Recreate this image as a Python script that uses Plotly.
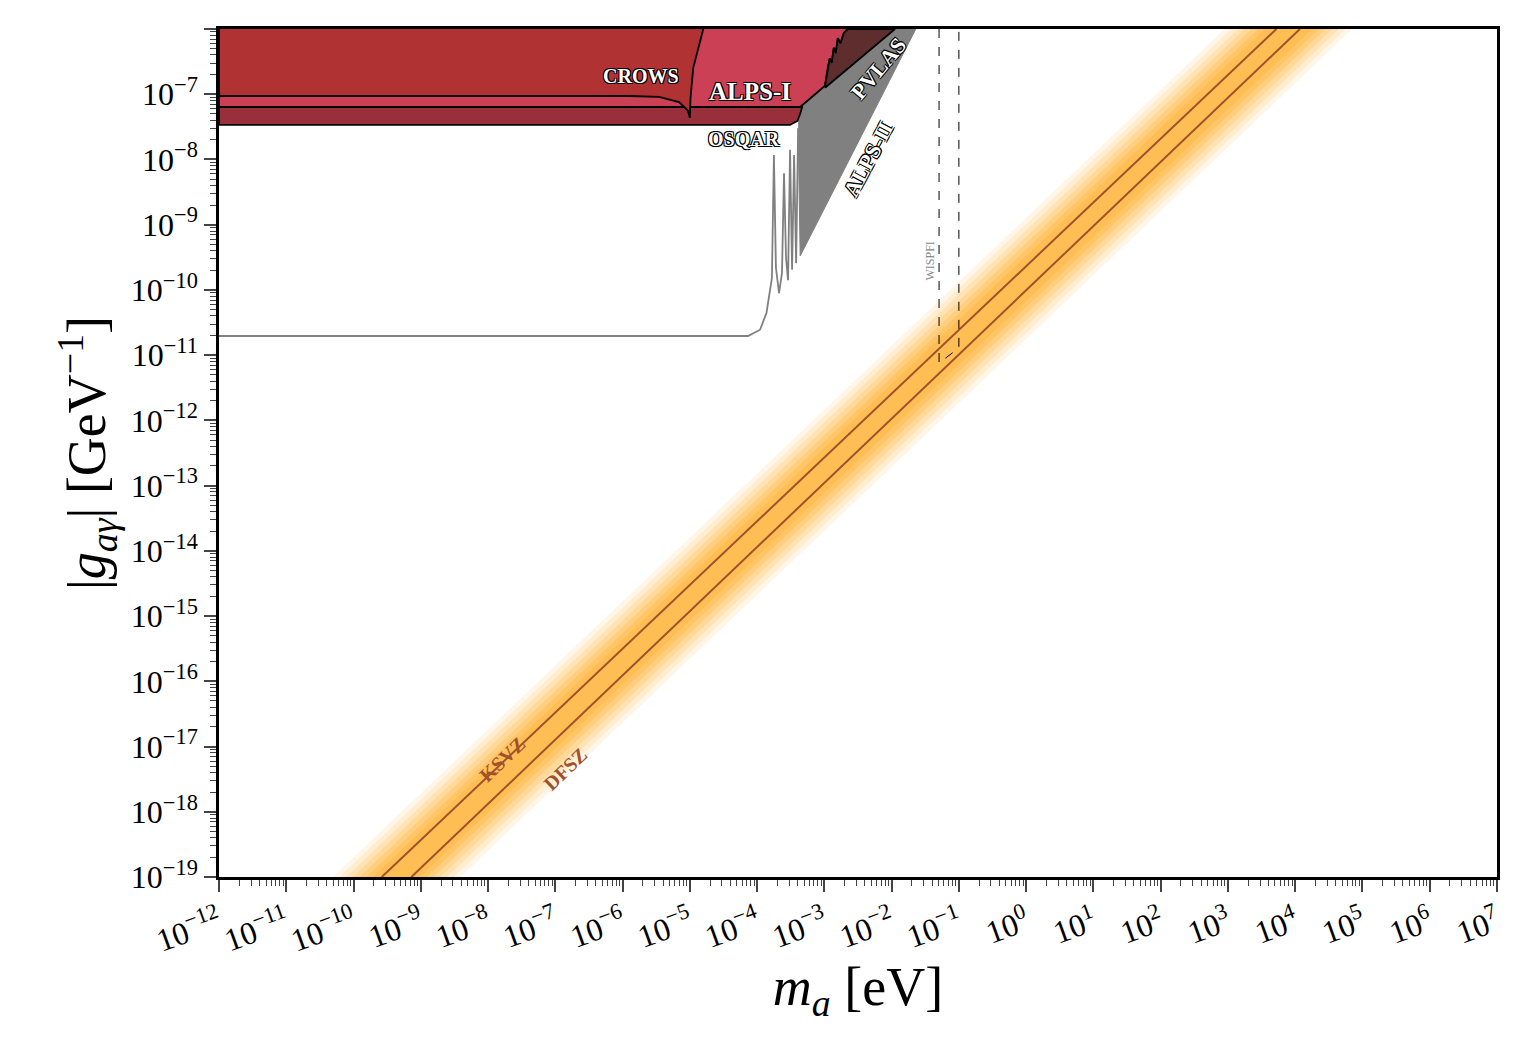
import plotly.graph_objects as go
import numpy as np

# ---- data (log10 units) ----
crows_x = [-12, -12, -5.91, -5.46, -5.16, -5.03, -5.00, -4.99, -4.95, -4.86, -4.80]
crows_y = [-6, -7.027, -7.027, -7.04, -7.12, -7.25, -7.36, -7.06, -6.60, -6.22, -6.0]
alps1_x = [-12, -12, -3.36, -3.19, -2.99, -2.95, -2.92, -2.89, -2.86, -2.83, -2.80, -2.76, -2.71, -2.65]
alps1_y = [-6, -7.196, -7.196, -7.05, -6.87, -6.60, -6.45, -6.52, -6.29, -6.37, -6.14, -6.22, -6.06, -6.0]
osqar_x = [-12, -12, -3.51, -3.40, -3.36, -3.33, -3.33]
osqar_y = [-6, -7.47, -7.47, -7.41, -7.30, -7.196, -6.0]
pvlas_x = [-2.99, -2.95, -2.92, -2.89, -2.86, -2.83, -2.80, -2.76, -2.71, -2.65, -1.95, -2.99]
pvlas_y = [-6.87, -6.60, -6.45, -6.52, -6.29, -6.37, -6.14, -6.22, -6.06, -6.0, -6.0, -6.90]
alps2_line_x = [-12, -4.135, -3.956, -3.86, -3.78, -3.75, -3.72, -3.674, -3.63, -3.60, -3.57, -3.54, -3.51, -3.48, -3.45, -3.42, -3.39]
alps2_line_y = [-10.706, -10.706, -10.61, -10.35, -9.82, -7.93, -9.66, -10.05, -9.74, -8.21, -9.51, -9.85, -7.85, -9.69, -7.93, -9.59, -7.52]
alps2_fill_x = [-3.39, -3.36, -1.64, -3.39]
alps2_fill_y = [-7.52, -9.48, -6.0, -6.0]
wispfi_x = [-1.295, -1.295, -1.0, -1.0]
wispfi_y = [-6.0, -11.12, -10.89, -6.0]
ksvz_x = [-9.58, 3.72]
dfsz_x = [-9.14, 4.07]
band_g = [-19, -6]
band_center_x = [-9.36, 3.90]

xticks = list(range(-12, 8))
yticks = list(range(-19, -5))

def sup(k):
    return "10<sup>" + ("−" + str(-k) if k < 0 else str(k)) + "</sup>"

P = lambda a: [10 ** v for v in a]
fig = go.Figure()

# axion band gradient
for w, op in [(0.95, 0.10), (0.85, 0.12), (0.75, 0.14), (0.65, 0.18), (0.55, 0.22), (0.45, 0.25), (0.35, 0.25)]:
    xs = [band_center_x[0] - w, band_center_x[1] - w, band_center_x[1] + w, band_center_x[0] + w]
    ys = [band_g[0], band_g[1], band_g[1], band_g[0]]
    fig.add_trace(go.Scatter(x=P(xs), y=P(ys), fill="toself", mode="none",
                             fillcolor=f"rgba(255,170,30,{op})", hoverinfo="skip"))
for xx in (ksvz_x, dfsz_x):
    fig.add_trace(go.Scatter(x=P(xx), y=P(band_g), mode="lines", line=dict(color="#A0522D", width=2)))

# ALPS-II
fig.add_trace(go.Scatter(x=P(alps2_fill_x), y=P(alps2_fill_y), fill="toself", mode="lines",
                         fillcolor="#808080", line=dict(color="#808080", width=1)))
fig.add_trace(go.Scatter(x=P(alps2_line_x), y=P(alps2_line_y), mode="lines",
                         line=dict(color="#808080", width=1.8)))
# WISPFI
fig.add_trace(go.Scatter(x=P(wispfi_x), y=P(wispfi_y), mode="lines",
                         line=dict(color="black", width=1, dash="dash")))

for xs, ys, col in [(osqar_x, osqar_y, "#9A2F3C"), (alps1_x, alps1_y, "#CB4055"),
                    (crows_x, crows_y, "#B13233"), (pvlas_x, pvlas_y, "#5E2E2F")]:
    fig.add_trace(go.Scatter(x=P(xs), y=P(ys), fill="toself", mode="lines", fillcolor=col,
                             line=dict(color="black", width=1.8)))

sh = "-1px -1px 0 #000, 1px -1px 0 #000, -1px 1px 0 #000, 1px 1px 0 #000"
serif = "Liberation Serif"
def lab(text, x, y, size, angle=0, color="white", shadow=sh):
    fig.add_annotation(x=x, y=y, text=text, showarrow=False, textangle=angle,
                       font=dict(family=serif, size=size, color=color, shadow=shadow))
lab("<b>CROWS</b>", -5.73, -6.72, 20)
lab("<b>ALPS-I</b>", -4.1, -6.96, 25)
lab("<b>OSQAR</b>", -4.2, -7.68, 20)
lab("<b>PVLAS</b>", -2.2, -6.6, 22, -50)
lab("<b>ALPS-II</b>", -2.35, -8.0, 22, -62)
lab("WISPFI", -1.43, -9.55, 12, -90, color="#888888", shadow="none")
lab("<b>KSVZ</b>", -7.8, -17.2, 20, -44, color="#A0522D", shadow="none")
lab("<b>DFSZ</b>", -6.85, -17.35, 20, -44, color="#A0522D", shadow="none")

fig.update_layout(
    width=1527, height=1045, showlegend=False, plot_bgcolor="white", paper_bgcolor="white",
    margin=dict(l=211, r=38, t=21, b=176, autoexpand=False),
    font=dict(family=serif, color="black"),
    xaxis=dict(type="log", range=[-12, 7], tickvals=[10 ** k for k in xticks], automargin=False,
               ticktext=[sup(k) for k in xticks], tickangle=-20, tickfont=dict(size=32),
               ticks="outside", ticklen=12, tickwidth=2, showline=True, linewidth=2.5,
               linecolor="black", mirror=True, showgrid=False, zeroline=False,
               minor=dict(ticks="outside", ticklen=6, tickwidth=1, dtick="D1", showgrid=False),
               title=dict(text="<i>m<sub>a</sub></i> [eV]", font=dict(size=54), standoff=10)),
    yaxis=dict(type="log", range=[-19, -6], tickvals=[10 ** k for k in yticks], automargin=False,
               ticktext=[sup(k) for k in yticks], tickfont=dict(size=32),
               ticks="outside", ticklen=12, tickwidth=2, showline=True, linewidth=2.5,
               linecolor="black", mirror=True, showgrid=False, zeroline=False,
               minor=dict(ticks="outside", ticklen=6, tickwidth=1, dtick="D1", showgrid=False),
               title=dict(text="|<i>g<sub>aγ</sub></i>| [GeV<sup>−1</sup>]", font=dict(size=54), standoff=8)),
)
fig.write_html("out.html")
